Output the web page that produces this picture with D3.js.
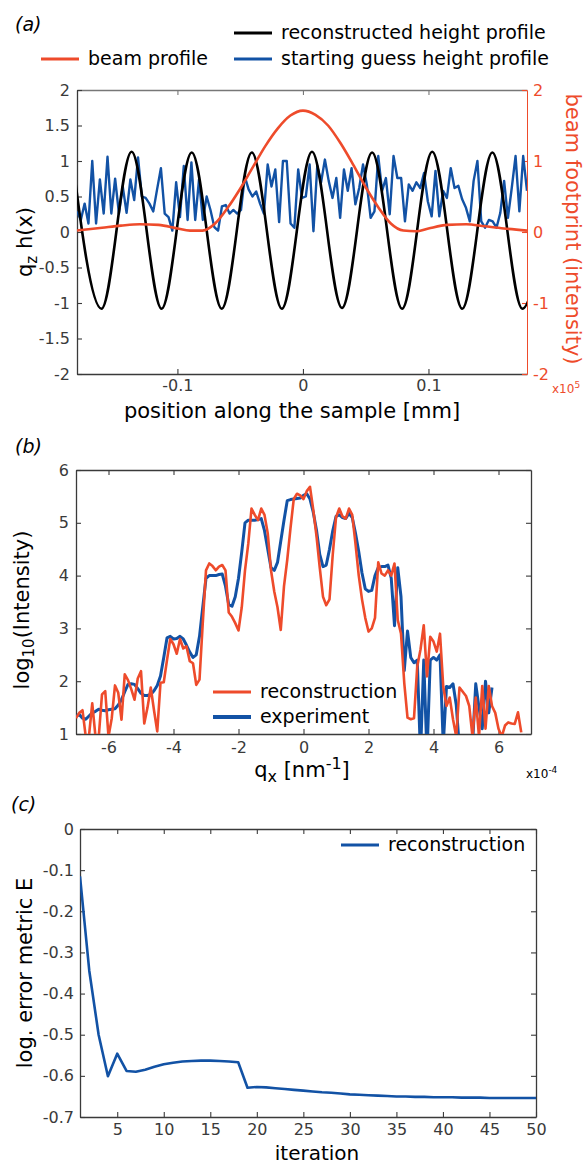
<!DOCTYPE html>
<html>
<head>
<meta charset="utf-8">
<script src="https://cdn.jsdelivr.net/npm/d3@7"></script>
<style>
  body { margin: 0; background: #fff; }
  text { font-family: "DejaVu Sans", sans-serif; }
</style>
</head>
<body>
<svg id="fig" width="584" height="1165"></svg>
<script>
// ---------- panel (a) data ----------
// reconstructed height profile: positions [mm] of its maxima / minima
const heightPos = [-0.1844, -0.1605, -0.1365, -0.1126, -0.0886, -0.0647, -0.0407, -0.0168, 0.0072,
  0.0311, 0.0551, 0.0790, 0.1030, 0.1269, 0.1509, 0.1748, 0.1988];
const heightVal = [1.13, -1.08, 1.13, -1.08, 1.12, -1.08, 1.12, -1.08, 1.13,
  -1.07, 1.12, -1.08, 1.13, -1.08, 1.12, -1.08, 1.12];

// beam profile (x1e5)
const beamPos = [-0.18, -0.16, -0.145, -0.13, -0.115, -0.10, -0.09, -0.08, -0.07, -0.06, -0.05, -0.04,
  -0.03, -0.02, -0.01, 0, 0.01, 0.02, 0.03, 0.04, 0.05, 0.06, 0.07, 0.08, 0.09, 0.10, 0.115, 0.13,
  0.145, 0.16, 0.1785];
const beamVal = [0.02, 0.06, 0.09, 0.11, 0.10, 0.05, 0.02, 0.02, 0.12, 0.34, 0.61, 0.91, 1.21, 1.46,
  1.64, 1.71, 1.65, 1.50, 1.25, 0.95, 0.63, 0.35, 0.12, 0.02, 0.01, 0.05, 0.10, 0.11, 0.08, 0.05, 0.02];

// starting guess height profile, evenly sampled over the shown range
const guessRange = [-0.18, 0.1785];
const guessVal = [
  0.29, 0.17, 0.40, 0.12, 1.00, 0.12, 0.74, 0.26, 1.06, 0.26,
  0.75, 0.26, 0.64, 0.27, 0.74, 0.45, 1.05, 0.50, 0.48, 0.40,
  0.29, 0.60, 0.90, 0.26, 0.21, 0.02, 0.70, 0.21, 0.93, 0.17,
  0.98, 0.17, 0.74, 0.17, 0.50, 0.31, 0.07, 0.02, 0.36, 0.38,
  0.26, 0.31, 0.26, 0.31, 0.78, 0.60, 0.50, 0.57, 0.40, 0.26,
  0.95, 0.64, 0.88, 0.14, 1.00, 1.00, 0.12,
  0.06, 0.88, 0.48, 0.50, 0.95, 0.01, 0.93, 0.70, 1.02, 0.72,
  0.48, 0.76, 0.20, 0.88, 0.58, 0.90, 0.39, 0.62, 0.95, 0.67,
  0.20, 0.29, 1.07, 0.58, 0.76, 0.25, 1.07, 0.76, 0.76, 0.15,
  0.67, 0.58, 0.70, 0.62, 0.83, 0.43, 0.22, 0.86, 0.22, 0.58,
  0.48, 0.90, 0.62, 0.65, 0.46, 0.34, 0.15, 0.72, 1.00, 0.15,
  0.06, 0.17, 0.15, 0.06, 0.27, 0.72, 0.20, 0.62, 1.07, 0.29,
  1.07, 0.58];

const aYTicks = [-2, -1.5, -1, -0.5, 0, 0.5, 1, 1.5, 2];
const aXTicks = [-0.1, 0, 0.1];
const aRightTicks = [-2, -1, 0, 1, 2];

// ---------- panel (b) data ----------
// log10 intensity sampled every 0.1 (x1e-4 nm^-1) starting at -7
const qStart = -7, qStep = 0.1;
const experiment = [
  1.34, 1.37, 1.30, 1.28, 1.34, 1.40, 1.43, 1.47, 1.45, 1.44,
  1.46, 1.47, 1.48, 1.55, 1.65, 1.80, 1.94, 1.95, 1.94, 1.86,
  1.77, 1.73, 1.73, 1.75, 1.82, 1.92, 2.10, 2.45, 2.82, 2.85,
  2.80, 2.81, 2.85, 2.80, 2.68, 2.55, 2.45, 2.50, 2.85, 3.40,
  3.95, 4.00, 4.00, 4.00, 4.02, 4.03, 3.80, 3.45, 3.42, 3.60,
  3.95, 4.45, 5.00, 5.05, 5.05, 5.05, 5.06, 5.08, 4.85, 4.50,
  4.15, 4.10, 4.25, 4.65, 5.05, 5.42, 5.44, 5.45, 5.46, 5.47,
  5.52, 5.55, 5.45, 5.20, 4.86, 4.40, 4.17, 4.20, 4.50, 4.85,
  5.12, 5.15, 5.10, 5.08, 5.18, 5.10, 4.80, 4.45, 4.05, 3.75,
  3.70, 3.72, 4.00, 4.15, 4.17, 4.17, 4.20, 3.95, 3.05, 4.15,
  3.60, 2.20, 2.95, 2.45, 2.35, 2.40, 0.60, 2.40, 0.60, 2.40,
  2.45, 2.40, 2.50, 0.80, 1.90, 1.88, 1.95, 1.55, 0.70, 0.60,
  0.70, 0.60, 0.80, 1.95, 1.50, 1.10, 2.00, 1.40, 1.88];
const reconstruction = [
  1.30, 1.40, 1.45, 0.95, 0.97, 1.58, 0.95, 0.95, 1.75, 1.81,
  0.95, 1.30, 1.92, 1.78, 1.27, 2.13, 2.02, 1.85, 1.65, 2.05,
  2.19, 1.20, 1.50, 1.88, 1.45, 1.05, 1.97, 1.98, 2.40, 2.80,
  2.70, 2.52, 2.80, 2.62, 2.66, 2.38, 2.34, 1.93, 2.03, 3.10,
  4.10, 4.23, 4.18, 4.10, 4.17, 4.20, 4.10, 3.30, 3.22, 3.10,
  2.96, 3.40, 4.10, 4.60, 5.27, 5.15, 5.05, 5.27, 5.15, 4.80,
  4.10, 3.70, 3.40, 2.97, 3.80, 4.30, 4.90, 5.45, 5.55, 5.52,
  5.45, 5.60, 5.68, 5.25, 4.75, 4.15, 3.60, 3.44, 3.55, 4.40,
  5.10, 5.27, 5.12, 5.08, 5.27, 5.15, 4.60, 4.00, 3.55, 3.20,
  2.94, 3.00, 3.20, 4.25, 4.04, 4.00, 4.10, 4.00, 4.23, 3.16,
  2.90, 1.97, 1.31, 1.28, 1.30, 2.28, 2.60, 3.06, 2.09, 2.84,
  2.75, 2.56, 2.90, 1.90, 1.53, 1.69, 1.28, 0.95, 1.88, 1.80,
  1.72, 1.53, 0.95, 1.69, 0.95, 1.91, 1.10, 1.91, 1.53, 1.40,
  1.10, 0.95, 1.16, 1.22, 1.20, 1.19, 1.41, 1.03];

const bXTicks = [-6, -4, -2, 0, 2, 4, 6];
const bYTicks = [1, 2, 3, 4, 5, 6];

// ---------- panel (c) data ----------
const errorMetric = [
  -0.115, -0.345, -0.500, -0.601, -0.546, -0.588, -0.590, -0.585, -0.578, -0.572,
  -0.568, -0.565, -0.564, -0.563, -0.563, -0.564, -0.565, -0.567, -0.629, -0.627,
  -0.628, -0.630, -0.632, -0.634, -0.636, -0.638, -0.640, -0.641, -0.643, -0.645,
  -0.646, -0.647, -0.648, -0.649, -0.650, -0.650, -0.651, -0.651, -0.652, -0.652,
  -0.652, -0.653, -0.653, -0.653, -0.654, -0.654, -0.654, -0.654, -0.654, -0.654];
const cXTicks = [5, 10, 15, 20, 25, 30, 35, 40, 45, 50];
const cYTicks = [0, -0.1, -0.2, -0.3, -0.4, -0.5, -0.6, -0.7];

// ---------- drawing ----------
const RED = "#ee4b2b", BLUE = "#1252a5", AXIS = "#3a3a3a";
const FONT = "DejaVu Sans, sans-serif";
const svg = d3.select("#fig");
const fmt = d => String(d);

function addClip(id, x, y) {
  svg.append("clipPath").attr("id", id).append("rect")
    .attr("x", x.range()[0]).attr("y", y.range()[1])
    .attr("width", x.range()[1] - x.range()[0])
    .attr("height", y.range()[0] - y.range()[1]);
}

function styleAxis(g, color) {
  g.attr("font-family", FONT).attr("font-size", 16);
  g.select(".domain").attr("stroke", color).attr("stroke-width", 1.3);
  g.selectAll(".tick line").attr("stroke", color).attr("stroke-width", 1.1);
  g.selectAll(".tick text").attr("fill", color);
}

// full box with inward ticks on every side
function boxAxes(x, y, xTicks, yTicks, pads) {
  const [x0, x1] = x.range(), [y0, y1] = y.range();
  svg.append("g").attr("transform", `translate(0,${y0})`)
    .call(d3.axisBottom(x).tickValues(xTicks).tickFormat(fmt).tickSize(-5).tickSizeOuter(0).tickPadding(pads[0]))
    .call(g => styleAxis(g, AXIS));
  svg.append("g").attr("transform", `translate(0,${y1})`)
    .call(d3.axisTop(x).tickValues(xTicks).tickFormat("").tickSize(-5).tickSizeOuter(0))
    .call(g => styleAxis(g, AXIS));
  svg.append("g").attr("transform", `translate(${x0},0)`)
    .call(d3.axisLeft(y).tickValues(yTicks).tickFormat(fmt).tickSize(-5).tickSizeOuter(0).tickPadding(pads[1]))
    .call(g => styleAxis(g, AXIS));
  svg.append("g").attr("transform", `translate(${x1},0)`)
    .call(d3.axisRight(y).tickValues(yTicks).tickFormat("").tickSize(-5).tickSizeOuter(0))
    .call(g => styleAxis(g, AXIS));
}

function panelLabel(txt, x, y) {
  svg.append("text").attr("x", x).attr("y", y)
    .attr("font-family", "Liberation Serif, serif").attr("font-style", "italic")
    .attr("font-size", 19).text(txt);
}

function legendEntry(x, y, color, label, width) {
  svg.append("line").attr("x1", x).attr("x2", x + 38).attr("y1", y).attr("y2", y)
    .attr("stroke", color).attr("stroke-width", width);
  svg.append("text").attr("x", x + 47).attr("y", y + 6).attr("font-size", 19).text(label);
}

// ===== (a) =====
const xA = d3.scaleLinear().domain([-0.18, 0.1785]).range([77, 527]);
const yA = d3.scaleLinear().domain([-2, 2]).range([374, 90]);
addClip("clipA", xA, yA);

svg.append("g").attr("transform", "translate(0,374)")
  .call(d3.axisBottom(xA).tickValues(aXTicks).tickFormat(fmt).tickSize(-5).tickSizeOuter(0).tickPadding(6))
  .call(g => styleAxis(g, AXIS));
svg.append("g").attr("transform", "translate(0,90)")
  .call(d3.axisTop(xA).tickValues(aXTicks).tickFormat("").tickSize(-5).tickSizeOuter(0))
  .call(g => styleAxis(g, "#777"));
svg.append("g").attr("transform", "translate(77,0)")
  .call(d3.axisLeft(yA).tickValues(aYTicks).tickFormat(fmt).tickSize(-5).tickSizeOuter(0).tickPadding(7))
  .call(g => styleAxis(g, AXIS));
svg.append("g").attr("transform", "translate(527,0)")
  .call(d3.axisRight(yA).tickValues(aRightTicks).tickFormat(fmt).tickSize(-5).tickSizeOuter(0).tickPadding(6))
  .call(g => styleAxis(g, RED))
  .call(g => g.select(".domain").attr("stroke-width", 1));

const lineA = d3.line().x(d => xA(d[0])).y(d => yA(d[1]));
const plotA = svg.append("g").attr("clip-path", "url(#clipA)");
const guessStep = (guessRange[1] - guessRange[0]) / (guessVal.length - 1);
plotA.append("path")
  .datum(guessVal.map((v, i) => [guessRange[0] + i * guessStep, v]))
  .attr("fill", "none").attr("stroke", BLUE).attr("stroke-width", 2.4)
  .attr("stroke-linejoin", "round").attr("d", lineA);
plotA.append("path")
  .datum(d3.zip(heightPos, heightVal))
  .attr("fill", "none").attr("stroke", "#000").attr("stroke-width", 2.6)
  .attr("d", lineA.curve(d3.curveMonotoneX));
plotA.append("path")
  .datum(d3.zip(beamPos, beamVal))
  .attr("fill", "none").attr("stroke", RED).attr("stroke-width", 2.6)
  .attr("d", lineA.curve(d3.curveMonotoneX));

panelLabel("(a)", 15, 31);
legendEntry(234, 33, "#000", "reconstructed height profile", 3);
legendEntry(41, 59, RED, "beam profile", 3);
legendEntry(234, 59, BLUE, "starting guess height profile", 3);

// axis titles (a)
const qz = svg.append("text").attr("transform", "translate(32,242) rotate(-90)")
  .attr("text-anchor", "middle").attr("font-size", 21);
qz.append("tspan").text("q");
qz.append("tspan").attr("font-size", 15).attr("dy", 5).text("z");
qz.append("tspan").attr("dy", -5).text(" h(x)");
svg.append("text").attr("x", 292).attr("y", 418).attr("text-anchor", "middle")
  .attr("font-size", 21).text("position along the sample [mm]");
svg.append("text").attr("transform", "translate(566,229) rotate(90)")
  .attr("text-anchor", "middle").attr("font-size", 21).attr("fill", RED)
  .text("beam footprint (intensity)");
const e5 = svg.append("text").attr("x", 552).attr("y", 393).attr("font-size", 12).attr("fill", RED);
e5.append("tspan").text("x10");
e5.append("tspan").attr("font-size", 9).attr("dy", -5).text("5");

// ===== (b) =====
const xB = d3.scaleLinear().domain([-7, 7]).range([76, 531]);
const yB = d3.scaleLinear().domain([1, 6]).range([734, 470]);
addClip("clipB", xB, yB);
boxAxes(xB, yB, bXTicks, bYTicks, [8, 7]);

const lineB = d3.line().x((d, i) => xB(qStart + i * qStep)).y(d => yB(d));
const plotB = svg.append("g").attr("clip-path", "url(#clipB)");
plotB.append("path").datum(experiment)
  .attr("fill", "none").attr("stroke", BLUE).attr("stroke-width", 3)
  .attr("stroke-linejoin", "round").attr("d", lineB);
plotB.append("path").datum(reconstruction)
  .attr("fill", "none").attr("stroke", RED).attr("stroke-width", 2.6)
  .attr("stroke-linejoin", "round").attr("d", lineB);

panelLabel("(b)", 15, 453);
legendEntry(213, 692, RED, "reconstruction", 3);
legendEntry(213, 717, BLUE, "experiment", 4);

const lg = svg.append("text").attr("transform", "translate(29,610) rotate(-90)")
  .attr("text-anchor", "middle").attr("font-size", 21);
lg.append("tspan").text("log");
lg.append("tspan").attr("font-size", 15).attr("dy", 5).text("10");
lg.append("tspan").attr("dy", -5).text("(Intensity)");
const qx = svg.append("text").attr("x", 302).attr("y", 777).attr("text-anchor", "middle").attr("font-size", 21);
qx.append("tspan").text("q");
qx.append("tspan").attr("font-size", 16).attr("dy", 5).text("x");
qx.append("tspan").attr("dy", -5).text(" [nm");
qx.append("tspan").attr("font-size", 16).attr("dy", -8).text("-1");
qx.append("tspan").attr("dy", 8).text("]");
const e4 = svg.append("text").attr("x", 526).attr("y", 778).attr("font-size", 12);
e4.append("tspan").text("x10");
e4.append("tspan").attr("font-size", 9).attr("dy", -5).text("-4");

// ===== (c) =====
const iterations = d3.range(1, errorMetric.length + 1);
const xC = d3.scaleLinear().domain([1, 50]).range([80, 536]);
const yC = d3.scaleLinear().domain([-0.7, 0]).range([1117, 829]);
addClip("clipC", xC, yC);
boxAxes(xC, yC, cXTicks, cYTicks, [7, 6]);

svg.append("g").attr("clip-path", "url(#clipC)")
  .append("path").datum(d3.zip(iterations, errorMetric))
  .attr("fill", "none").attr("stroke", BLUE).attr("stroke-width", 2.6)
  .attr("stroke-linejoin", "round")
  .attr("d", d3.line().x(d => xC(d[0])).y(d => yC(d[1])));

panelLabel("(c)", 11, 811);
legendEntry(341, 845, BLUE, "reconstruction", 3);

svg.append("text").attr("transform", "translate(32,973) rotate(-90)")
  .attr("text-anchor", "middle").attr("font-size", 21).text("log. error metric E");
svg.append("text").attr("x", 317).attr("y", 1160).attr("text-anchor", "middle")
  .attr("font-size", 20).text("iteration");
</script>
</body>
</html>
